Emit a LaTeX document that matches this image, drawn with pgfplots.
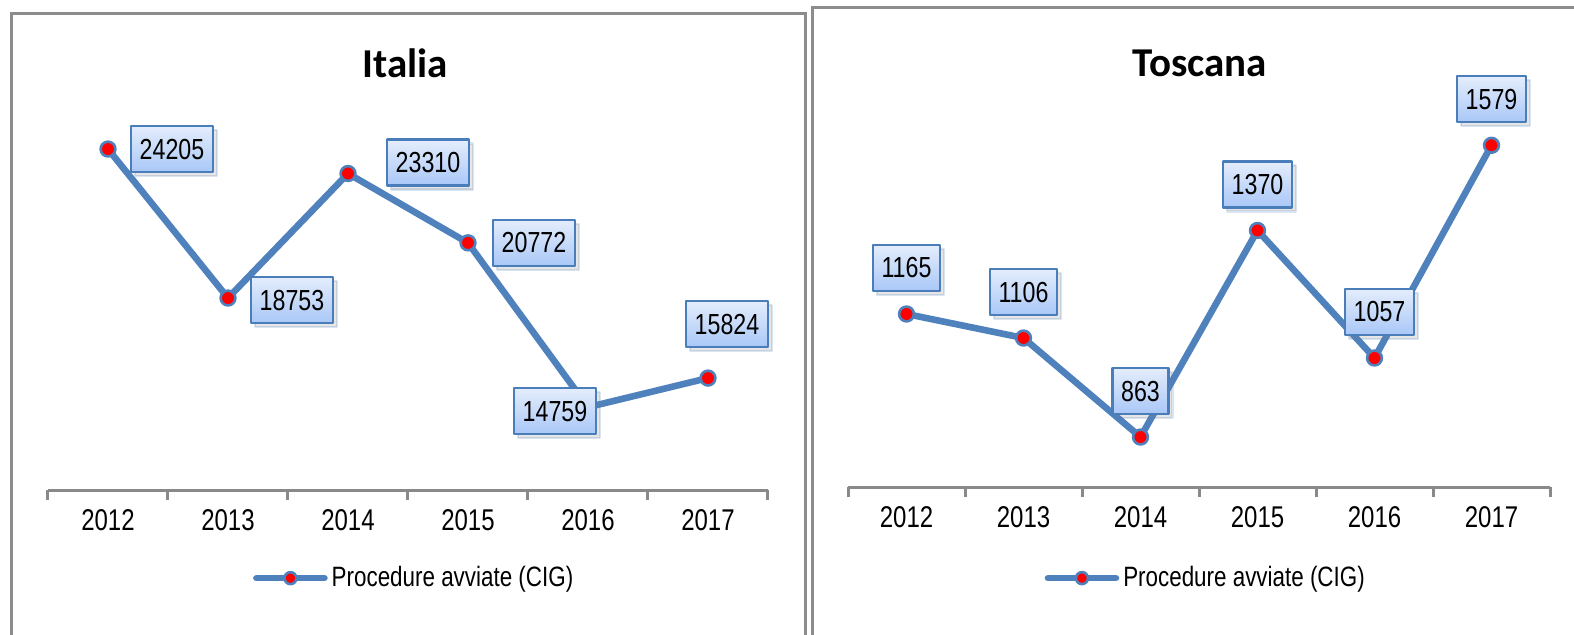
\documentclass[border=0pt]{standalone}
\usepackage{fontspec}
\usepackage{pgfplots}
\usepackage{pgfplotstable}
\pgfplotsset{compat=1.18}
\usetikzlibrary{shadows}
\newfontfamily\narrow{Liberation Sans}[FakeStretch=0.8]
\newfontfamily\carlito{Carlito}
\definecolor{lineblue}{HTML}{4F81BD}
\definecolor{boxblue}{HTML}{4A7EBB}
\definecolor{boxtop}{HTML}{E4EDFC}
\definecolor{boxbot}{HTML}{A9C7F7}
\definecolor{axisgrey}{HTML}{898989}
\definecolor{framegrey}{HTML}{8C8C8C}

\pgfplotstableread{
x y dx dy lab
0 24205 32 0 24205
1 18753 32 -1 18753
2 23310 40 5.5 23310
3 20772 33 0 20772
4 14759 -16.5 -2 14759
5 15824 9.5 27 15824
}\italia

\pgfplotstableread{
x y dx dy lab
0 1165 0 23 1165
1 1106 0 23 1106
2 863 0 23 863
3 1370 0 23 1370
4 1057 2.5 23 1057
5 1579 0 23 1579
}\toscana

\pgfplotsset{
  panel/.style={
    scale only axis, clip=false,
    xmin=-0.5, xmax=5.5,
    axis y line=none, axis x line*=bottom,
    axis line style={draw=axisgrey, line width=1.5pt, -},
    xtick={0,...,5},
    xticklabels={2012,2013,2014,2015,2016,2017},
    major tick length=0pt,
    minor xtick={-0.5,0.5,...,5.5},
    minor tick length=5pt,
    tick align=outside,
    minor tick style={draw=axisgrey, line width=1.5pt},
    xticklabel style={font=\narrow\fontsize{15}{17}\selectfont, anchor=center, yshift=-15pt},
    title style={font=\carlito\bfseries\fontsize{20.5}{24}\selectfont, anchor=center},
    legend style={draw=none, fill=none, font=\narrow\fontsize{14}{16}\selectfont, anchor=center, legend cell align=left},
    legend image code/.code={\draw[mark repeat=2,mark phase=2,#1, mark size=3pt] plot coordinates {(0pt,0pt) (17pt,0pt) (34pt,0pt)};},
  },
  series/.style={
    lineblue, line width=3.3pt, line join=round, line cap=round,
    mark=*, mark size=3.7pt,
    mark options={fill=red, draw=lineblue, line width=1.3pt},
    point meta=explicit symbolic,
    nodes near coords,
    visualization depends on={\thisrow{dx}\as\dx},
    visualization depends on={\thisrow{dy}\as\dy},
    every node near coord/.append style={
      anchor=center, xshift=\dx pt, yshift=\dy pt,
      font=\narrow\fontsize{14.5}{16}\selectfont, text=black,
      draw=boxblue, line width=1.1pt, top color=boxtop, bottom color=boxbot,
      minimum height=23pt, inner xsep=4.3pt,
      drop shadow={opacity=0.2, shadow xshift=2pt, shadow yshift=-2pt}
    },
  },
}

\begin{document}
\begin{tikzpicture}
\useasboundingbox (0,0) rectangle (787pt,317pt);
\draw[framegrey, line width=1.5pt] (5.5pt,-5pt) rectangle (402.5pt,310.5pt);
\draw[framegrey, line width=1.5pt] (406pt,-5pt) rectangle (795pt,313.5pt);

\begin{axis}[panel,
  at={(24pt,72pt)}, anchor=south west,
  width=360pt, height=195pt,
  ymin=11728, ymax=26000,
  title={Italia}, title style={at={(0.496,1.064)}},
  legend style={at={(0.51,-0.226)}},
]
\addplot[series] table[x=x, y=y, meta=lab]{\italia};
\addlegendentry{Procedure avviate (CIG)}
\end{axis}

\begin{axis}[panel,
  at={(424pt,73.5pt)}, anchor=south west,
  width=351pt, height=195.5pt,
  ymin=740.4, ymax=1700,
  title={Toscana}, title style={at={(0.501,1.054)}},
  legend style={at={(0.511,-0.233)}},
]
\addplot[series] table[x=x, y=y, meta=lab]{\toscana};
\addlegendentry{Procedure avviate (CIG)}
\end{axis}
\end{tikzpicture}
\end{document}
